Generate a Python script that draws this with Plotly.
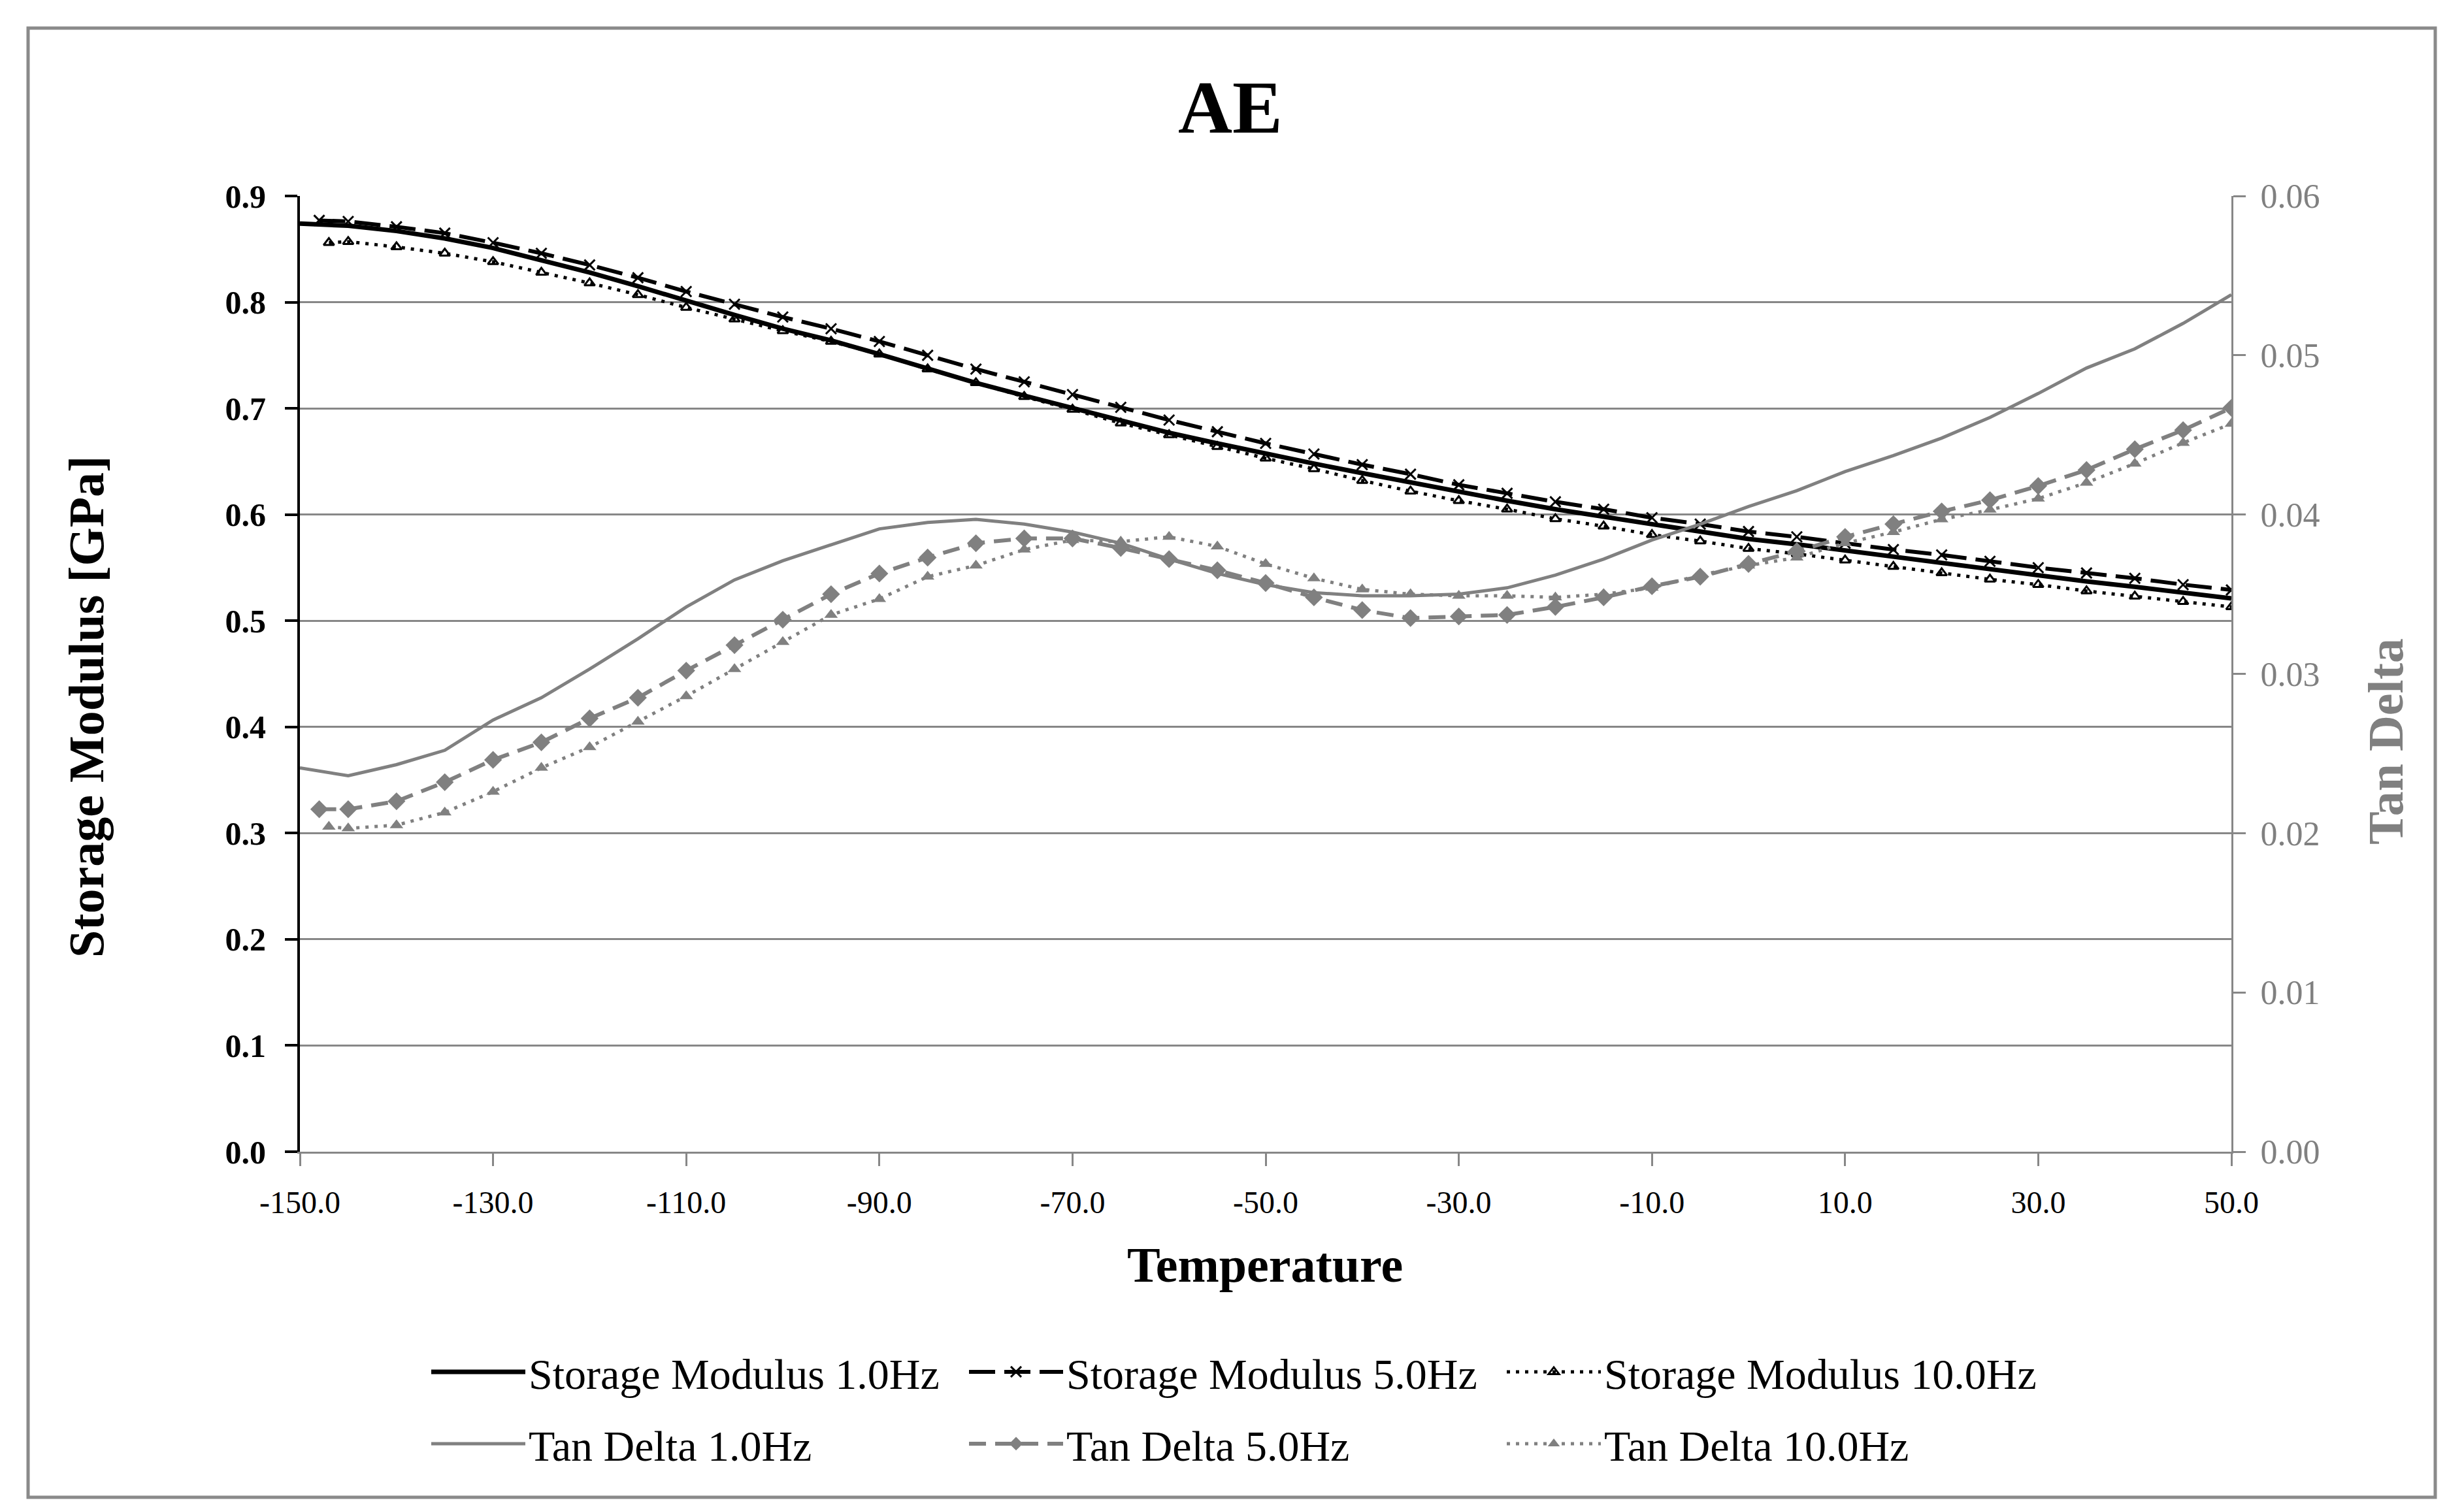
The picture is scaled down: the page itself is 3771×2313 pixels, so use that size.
import plotly.graph_objects as go

# ---------------- data ----------------
temp_sm1 = [-150, -145, -140, -135, -130, -125, -120, -115, -110, -105, -100, -95, -90, -85, -80,
            -75, -70, -65, -60, -55, -50, -45, -40, -35, -30, -25, -20, -15, -10, -5, 0,
            5, 10, 15, 20, 25, 30, 35, 40, 45, 50]
storage_1hz = [0.874, 0.872, 0.867, 0.860, 0.851, 0.840, 0.828, 0.815, 0.801, 0.788, 0.775, 0.764,
               0.751, 0.737, 0.724, 0.712, 0.700, 0.688, 0.677, 0.667, 0.657, 0.648, 0.639, 0.630,
               0.621, 0.613, 0.605, 0.598, 0.590, 0.584, 0.577, 0.572, 0.566, 0.560, 0.555, 0.549,
               0.543, 0.537, 0.532, 0.526, 0.521]

temp_sm5 = [-148, -145, -140, -135, -130, -125, -120, -115, -110, -105, -100, -95, -90, -85, -80,
            -75, -70, -65, -60, -55, -50, -45, -40, -35, -30, -25, -20, -15, -10, -5, 0,
            5, 10, 15, 20, 25, 30, 35, 40, 45, 50]
storage_5hz = [0.877, 0.876, 0.871, 0.865, 0.856, 0.846, 0.835, 0.823, 0.810, 0.798, 0.786, 0.775,
               0.763, 0.750, 0.737, 0.725, 0.713, 0.701, 0.689, 0.678, 0.667, 0.657, 0.647, 0.638,
               0.628, 0.620, 0.612, 0.605, 0.597, 0.591, 0.584, 0.579, 0.573, 0.567, 0.562, 0.556,
               0.550, 0.545, 0.540, 0.534, 0.529]

temp_sm10 = [-147, -145, -140, -135, -130, -125, -120, -115, -110, -105, -100, -95, -90, -85, -80,
             -75, -70, -65, -60, -55, -50, -45, -40, -35, -30, -25, -20, -15, -10, -5, 0,
             5, 10, 15, 20, 25, 30, 35, 40, 45, 50]
storage_10hz = [0.856, 0.857, 0.852, 0.846, 0.838, 0.828, 0.818, 0.807, 0.795, 0.784, 0.773, 0.763,
                0.751, 0.737, 0.724, 0.711, 0.699, 0.686, 0.675, 0.664, 0.653, 0.643, 0.632, 0.622,
                0.613, 0.605, 0.596, 0.589, 0.581, 0.575, 0.568, 0.563, 0.557, 0.551, 0.545, 0.539,
                0.534, 0.528, 0.523, 0.518, 0.513]

temp_td1 = temp_sm1
tan_1hz = [0.0241, 0.0236, 0.0243, 0.0252, 0.0271, 0.0285, 0.0303, 0.0322, 0.0342, 0.0359, 0.0371,
           0.0381, 0.0391, 0.0395, 0.0397, 0.0394, 0.0389, 0.0382, 0.0372, 0.0363, 0.0356, 0.0351,
           0.0349, 0.0349, 0.0350, 0.0354, 0.0362, 0.0372, 0.0384, 0.0394, 0.0405, 0.0415, 0.0427,
           0.0437, 0.0448, 0.0461, 0.0476, 0.0492, 0.0504, 0.0520, 0.0538]

temp_td5 = temp_sm5
tan_5hz = [0.0215, 0.0215, 0.0220, 0.0232, 0.0246, 0.0257, 0.0272, 0.0285, 0.0302, 0.0318, 0.0334,
           0.0350, 0.0363, 0.0373, 0.0382, 0.0385, 0.0385, 0.0379, 0.0372, 0.0365, 0.0357, 0.0348,
           0.0340, 0.0335, 0.0336, 0.0337, 0.0342, 0.0348, 0.0355, 0.0361, 0.0369, 0.0377, 0.0386,
           0.0394, 0.0402, 0.0409, 0.0418, 0.0428, 0.0441, 0.0453, 0.0467]

temp_td10 = temp_sm10
tan_10hz = [0.0204, 0.0203, 0.0205, 0.0213, 0.0226, 0.0241, 0.0254, 0.0270, 0.0286, 0.0303, 0.0320,
            0.0337, 0.0347, 0.0361, 0.0368, 0.0378, 0.0384, 0.0383, 0.0386, 0.0380, 0.0369, 0.0360,
            0.0353, 0.0350, 0.0349, 0.0349, 0.0348, 0.0350, 0.0354, 0.0362, 0.0368, 0.0373, 0.0382,
            0.0389, 0.0397, 0.0403, 0.0410, 0.0420, 0.0432, 0.0445, 0.0457]

x_tick_values = [-150, -130, -110, -90, -70, -50, -30, -10, 10, 30, 50]
x_tick_labels = ["-150.0", "-130.0", "-110.0", "-90.0", "-70.0", "-50.0", "-30.0",
                 "-10.0", "10.0", "30.0", "50.0"]

# ---------------- styling ----------------
FONT = "Palatino Linotype, Book Antiqua, Palatino, Liberation Serif, serif"
BLACK = "#000000"
GRAY = "#808080"
GRID = "#878787"

fig = go.Figure()

fig.add_trace(go.Scatter(x=temp_sm1, y=storage_1hz, name="Storage Modulus 1.0Hz",
                         mode="lines", line=dict(color=BLACK, width=7), legend="legend"))
fig.add_trace(go.Scatter(x=temp_sm5, y=storage_5hz, name="Storage Modulus 5.0Hz",
                         mode="lines+markers", line=dict(color=BLACK, width=6, dash="40px,14px"),
                         marker=dict(symbol="x-thin", size=16, line=dict(color=BLACK, width=3)),
                         legend="legend"))
fig.add_trace(go.Scatter(x=temp_sm10, y=storage_10hz, name="Storage Modulus 10.0Hz",
                         mode="lines+markers", line=dict(color=BLACK, width=5, dash="5px,9px"),
                         marker=dict(symbol="triangle-up-open", size=14, color=BLACK,
                                     line=dict(color=BLACK, width=3)),
                         legend="legend"))

fig.add_trace(go.Scatter(x=temp_td1, y=tan_1hz, name="Tan Delta 1.0Hz", yaxis="y2",
                         mode="lines", line=dict(color=GRAY, width=5), legend="legend2"))
fig.add_trace(go.Scatter(x=temp_td5, y=tan_5hz, name="Tan Delta 5.0Hz", yaxis="y2",
                         mode="lines+markers", line=dict(color=GRAY, width=6, dash="26px,14px"),
                         marker=dict(symbol="diamond", size=21, color=GRAY),
                         legend="legend2"))
fig.add_trace(go.Scatter(x=temp_td10, y=tan_10hz, name="Tan Delta 10.0Hz", yaxis="y2",
                         mode="lines+markers", line=dict(color=GRAY, width=5, dash="5px,9px"),
                         marker=dict(symbol="triangle-up", size=18, color=GRAY),
                         legend="legend2"))

# page coordinates (screenshot pixels); the page body has an 8px margin
OFF = 8
W, H = 3771 - 2 * OFF, 2313 - 2 * OFF
PL, PR, PT, PB = 459, 3415, 300, 1763          # plot area in screenshot pixels
L, T = PL - OFF, PT - OFF
R, B = W - (PR - OFF), H - (PB - OFF)
pw, ph = PR - PL, PB - PT


def px(x):
    return (x - PL) / pw


def py(y):
    return (PB - y) / ph


legend_common = dict(orientation="h", xanchor="left", yanchor="middle",
                     font=dict(family=FONT, size=66, color=BLACK),
                     entrywidth=664, entrywidthmode="pixels", itemwidth=144,
                     bgcolor="rgba(0,0,0,0)", borderwidth=0)

fig.update_layout(
    width=W, height=H,
    margin=dict(l=L, r=R, t=T, b=B),
    paper_bgcolor="white", plot_bgcolor="white",
    font=dict(family=FONT, color=BLACK),
    showlegend=True,
    legend=dict(x=px(655), y=py(2100), **legend_common),
    legend2=dict(x=px(655), y=py(2210), **legend_common),
    xaxis=dict(range=[-150, 50], tickmode="array", tickvals=x_tick_values, ticktext=x_tick_labels,
               showgrid=False, zeroline=False, showline=True, linecolor=GRID, linewidth=3,
               ticks="outside", ticklen=19, tickwidth=3, tickcolor=GRID,
               tickfont=dict(family=FONT, size=48, color=BLACK), ticklabelstandoff=14),
    yaxis=dict(range=[0, 0.9], dtick=0.1, tick0=0, tickformat=".1f",
               showgrid=True, gridcolor=GRID, gridwidth=3, zeroline=False,
               showline=True, linecolor=BLACK, linewidth=4,
               ticks="outside", ticklen=19, tickwidth=4, tickcolor=BLACK,
               tickfont=dict(family=FONT, size=50, color=BLACK, weight="bold"),
               ticklabelstandoff=19),
    yaxis2=dict(range=[0, 0.06], dtick=0.01, tick0=0, tickformat=".2f", overlaying="y",
                side="right", showgrid=False, zeroline=False,
                showline=True, linecolor=GRID, linewidth=3,
                ticks="outside", ticklen=19, tickwidth=3, tickcolor=GRID,
                tickfont=dict(family=FONT, size=52, color=GRAY), ticklabelstandoff=12),
    shapes=[dict(type="rect", xref="paper", yref="paper",
                 x0=px(43), x1=px(3727), y0=py(2292), y1=py(43),
                 line=dict(color="#8a8a8a", width=5), fillcolor="rgba(0,0,0,0)", layer="below")],
    annotations=[
        dict(text="<b>AE</b>", x=px(1883), y=py(164), xref="paper", yref="paper",
             showarrow=False, xanchor="center", yanchor="middle",
             font=dict(family=FONT, size=115, color=BLACK)),
        dict(text="<b>Storage Modulus [GPa]</b>", x=px(132), y=py(1082), xref="paper", yref="paper",
             showarrow=False, xanchor="center", yanchor="middle", textangle=-90,
             font=dict(family=FONT, size=76, color=BLACK)),
        dict(text="<b>Tan Delta</b>", x=px(3651), y=py(1135), xref="paper", yref="paper",
             showarrow=False, xanchor="center", yanchor="middle", textangle=-90,
             font=dict(family=FONT, size=76, color=GRAY)),
        dict(text="<b>Temperature</b>", x=px(1936), y=py(1936), xref="paper", yref="paper",
             showarrow=False, xanchor="center", yanchor="middle",
             font=dict(family=FONT, size=76, color=BLACK)),
    ],
)

fig.write_html("out.html")
